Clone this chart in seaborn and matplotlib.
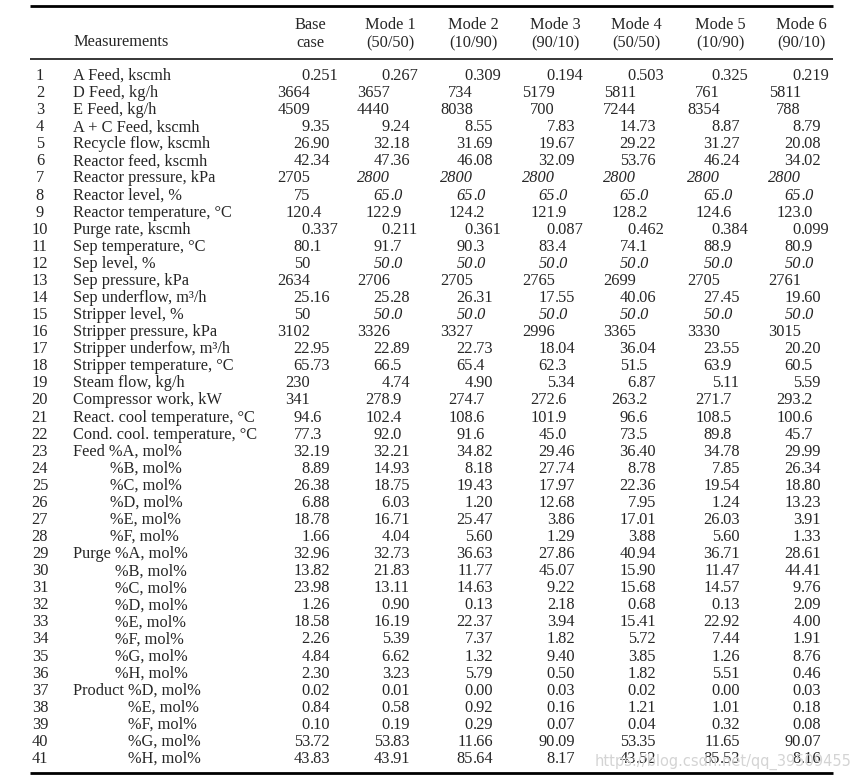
import matplotlib
matplotlib.use("Agg")
import matplotlib.pyplot as plt
import seaborn as sns

# ---------------------------
# TABLE DATA
# ---------------------------
columns = ["Base\ncase", "Mode 1\n(50/50)", "Mode 2\n(10/90)", "Mode 3\n(90/10)",
           "Mode 4\n(50/50)", "Mode 5\n(10/90)", "Mode 6\n(90/10)"]

# (label, indent group) - indent: 0 main, 1 feed sub, 2 purge sub, 3 product sub
measurements = [
    ("A Feed, kscmh", 0), ("D Feed, kg/h", 0), ("E Feed, kg/h", 0),
    ("A + C Feed, kscmh", 0), ("Recycle flow, kscmh", 0), ("Reactor feed, kscmh", 0),
    ("Reactor pressure, kPa", 0), ("Reactor level, %", 0),
    ("Reactor temperature, °C", 0), ("Purge rate, kscmh", 0),
    ("Sep temperature, °C", 0), ("Sep level, %", 0), ("Sep pressure, kPa", 0),
    ("Sep underflow, m³/h", 0), ("Stripper level, %", 0),
    ("Stripper pressure, kPa", 0), ("Stripper underfow, m³/h", 0),
    ("Stripper temperature, °C", 0), ("Steam flow, kg/h", 0),
    ("Compressor work, kW", 0), ("React. cool temperature, °C", 0),
    ("Cond. cool. temperature, °C", 0),
    ("Feed %A, mol%", 0), ("%B, mol%", 1), ("%C, mol%", 1), ("%D, mol%", 1),
    ("%E, mol%", 1), ("%F, mol%", 1),
    ("Purge %A, mol%", 0), ("%B, mol%", 2), ("%C, mol%", 2), ("%D, mol%", 2),
    ("%E, mol%", 2), ("%F, mol%", 2), ("%G, mol%", 2), ("%H, mol%", 2),
    ("Product %D, mol%", 0), ("%E, mol%", 3), ("%F, mol%", 3), ("%G, mol%", 3),
    ("%H, mol%", 3),
]

base = ["0.251", "3664", "4509", "9.35", "26.90", "42.34", "2705", "75", "120.4", "0.337",
        "80.1", "50", "2634", "25.16", "50", "3102", "22.95", "65.73", "230", "341",
        "94.6", "77.3", "32.19", "8.89", "26.38", "6.88", "18.78", "1.66", "32.96", "13.82",
        "23.98", "1.26", "18.58", "2.26", "4.84", "2.30", "0.02", "0.84", "0.10", "53.72",
        "43.83"]
mode1 = ["0.267", "3657", "4440", "9.24", "32.18", "47.36", "2800", "65.0", "122.9", "0.211",
         "91.7", "50.0", "2706", "25.28", "50.0", "3326", "22.89", "66.5", "4.74", "278.9",
         "102.4", "92.0", "32.21", "14.93", "18.75", "6.03", "16.71", "4.04", "32.73", "21.83",
         "13.11", "0.90", "16.19", "5.39", "6.62", "3.23", "0.01", "0.58", "0.19", "53.83",
         "43.91"]
mode2 = ["0.309", "734", "8038", "8.55", "31.69", "46.08", "2800", "65.0", "124.2", "0.361",
         "90.3", "50.0", "2705", "26.31", "50.0", "3327", "22.73", "65.4", "4.90", "274.7",
         "108.6", "91.6", "34.82", "8.18", "19.43", "1.20", "25.47", "5.60", "36.63", "11.77",
         "14.63", "0.13", "22.37", "7.37", "1.32", "5.79", "0.00", "0.92", "0.29", "11.66",
         "85.64"]
mode3 = ["0.194", "5179", "700", "7.83", "19.67", "32.09", "2800", "65.0", "121.9", "0.087",
         "83.4", "50.0", "2765", "17.55", "50.0", "2996", "18.04", "62.3", "5.34", "272.6",
         "101.9", "45.0", "29.46", "27.74", "17.97", "12.68", "3.86", "1.29", "27.86", "45.07",
         "9.22", "2.18", "3.94", "1.82", "9.40", "0.50", "0.03", "0.16", "0.07", "90.09",
         "8.17"]
mode4 = ["0.503", "5811", "7244", "14.73", "29.22", "53.76", "2800", "65.0", "128.2", "0.462",
         "74.1", "50.0", "2699", "40.06", "50.0", "3365", "36.04", "51.5", "6.87", "263.2",
         "96.6", "73.5", "36.40", "8.78", "22.36", "7.95", "17.01", "3.88", "40.94", "15.90",
         "15.68", "0.68", "15.41", "5.72", "3.85", "1.82", "0.02", "1.21", "0.04", "53.35",
         "43.52"]
mode5 = ["0.325", "761", "8354", "8.87", "31.27", "46.24", "2800", "65.0", "124.6", "0.384",
         "88.9", "50.0", "2705", "27.45", "50.0", "3330", "23.55", "63.9", "5.11", "271.7",
         "108.5", "89.8", "34.78", "7.85", "19.54", "1.24", "26.03", "5.60", "36.71", "11.47",
         "14.57", "0.13", "22.92", "7.44", "1.26", "5.51", "0.00", "1.01", "0.32", "11.65",
         "85.53"]
mode6 = ["0.219", "5811", "788", "8.79", "20.08", "34.02", "2800", "65.0", "123.0", "0.099",
         "80.9", "50.0", "2761", "19.60", "50.0", "3015", "20.20", "60.5", "5.59", "293.2",
         "100.6", "45.7", "29.99", "26.34", "18.80", "13.23", "3.91", "1.33", "28.61", "44.41",
         "9.76", "2.09", "4.00", "1.91", "8.76", "0.46", "0.03", "0.18", "0.08", "90.07",
         "8.16"]

# setpoints printed in italics for the six modes (row numbers)
italic_rows = [7, 8, 12, 15]

watermark = "https://blog.csdn.net/qq_39509455"

# ---------------------------
# LAYOUT
# ---------------------------
sns.set_theme(style="white")
plt.rcParams['font.family'] = ['Liberation Serif', 'DejaVu Serif']

W, H = 861, 781
fig = plt.figure(figsize=(W / 100, H / 100), dpi=100)
ax = fig.add_axes([0, 0, 1, 1])
ax.set_xlim(0, W)
ax.set_ylim(H, 0)
ax.axis("off")

fs = 11.8
col_x = [310, 390, 473, 555, 636, 720, 801]  # decimal point positions
indent_x = [73, 110, 115, 128]
row_y0, row_dy = 76, 17.075

# rules
ax.plot([30, 833], [6, 6], color="black", lw=2.0, solid_capstyle="butt")
ax.plot([30, 833], [59, 59], color="black", lw=1.1, solid_capstyle="butt")
ax.plot([30, 833], [773, 773], color="black", lw=2.0, solid_capstyle="butt")

# header
ax.text(73, 42, "Measurements", fontsize=fs, ha="left", va="center")
for x, name in zip(col_x, columns):
    top, bot = name.split("\n")
    ax.text(x, 25, top, fontsize=fs, ha="center", va="center")
    ax.text(x, 43, bot, fontsize=fs, ha="center", va="center")

data_cols = [base, mode1, mode2, mode3, mode4, mode5, mode6]

for i, (label, grp) in enumerate(measurements):
    y = row_y0 + i * row_dy
    n = i + 1
    ax.text(40, y, str(n), fontsize=fs, ha="center", va="center")
    ax.text(indent_x[grp], y, label, fontsize=fs, ha="left", va="center")
    for j, col in enumerate(data_cols):
        s = col[i]
        style = "italic" if (n in italic_rows and j > 0) else "normal"
        xd = col_x[j]
        if "." in s:
            ip, fp = s.split(".")
            ax.text(xd, y, ip, fontsize=fs, ha="right", va="center", style=style)
            ax.text(xd, y, "." + fp, fontsize=fs, ha="left", va="center", style=style)
        else:
            ax.text(xd, y, s, fontsize=fs, ha="right", va="center", style=style)

ax.text(852, 762, watermark, fontsize=10.5, ha="right", va="center",
        color="#d4d4d4", family=["DejaVu Sans"])

fig.savefig("out.png", dpi=100, facecolor="white")
